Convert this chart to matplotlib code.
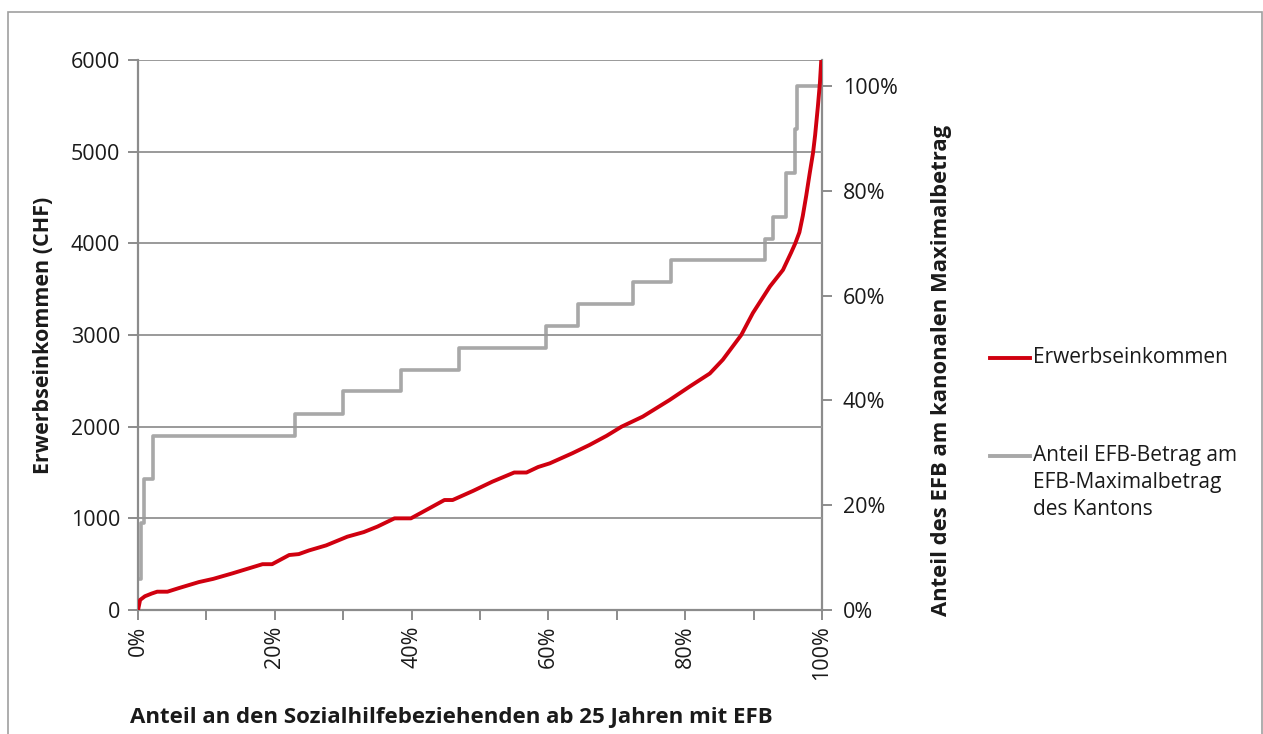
import matplotlib
matplotlib.use("Agg")
import matplotlib.pyplot as plt
from matplotlib.lines import Line2D
from matplotlib.patches import Rectangle
from matplotlib.ticker import FixedLocator, MultipleLocator

plt.rcParams["font.family"] = ["Open Sans", "DejaVu Sans"]

# Erwerbseinkommen (CHF) over share of recipients (%)
income_share = [0, 0.3, 1, 2, 2.8, 4.3, 6, 8.9, 11, 13.8, 16, 18.2, 19.6, 22.1, 23.5,
                25, 27.5, 30.6, 33, 35, 37.5, 39.9, 42.6, 44.8, 46, 49, 51.8, 55, 56.8,
                58.5, 60.2, 63.5, 66, 68.5, 70.7, 73.8, 77.7, 80.7, 83.6, 85.5, 87,
                88.2, 89.9, 92.4, 94.3, 95.5, 96.1, 96.7, 97.2, 97.7, 98.2, 98.7, 99.0,
                99.4, 99.7, 99.9, 100]
income_chf = [0, 110, 150, 180, 200, 200, 240, 305, 340, 400, 450, 500, 500, 600, 610,
              650, 705, 800, 850, 910, 1000, 1000, 1110, 1200, 1200, 1300, 1400, 1500, 1500,
              1560, 1600, 1710, 1800, 1900, 2000, 2110, 2290, 2440, 2580, 2730, 2880,
              3000, 3240, 3530, 3710, 3900, 4000, 4120, 4300, 4520, 4760, 4990, 5180,
              5490, 5750, 6000, 6300]

# Anteil EFB-Betrag am Maximalbetrag (step function)
efb_share = [0, 0.4, 0.8, 2.2, 22.9, 29.9, 38.5, 47.0, 59.7, 64.3, 72.3, 77.9,
             91.7, 92.9, 94.8, 96.0, 96.3, 100]
efb_ratio = [0.06, 0.167, 0.25, 0.333, 0.375, 0.417, 0.458, 0.5, 0.542, 0.583, 0.625, 0.667,
             0.708, 0.75, 0.833, 0.917, 1.0, 1.0]

x_ticks = [0, 20, 40, 60, 80, 100]
x_labels = ["0%", "20%", "40%", "60%", "80%", "100%"]
left_ticks = [0, 1000, 2000, 3000, 4000, 5000, 6000]
right_ticks = [0, 0.2, 0.4, 0.6, 0.8, 1.0]
right_labels = ["0%", "20%", "40%", "60%", "80%", "100%"]

RED = "#d0000f"
GRAY = "#a8a8a8"
AXIS = "#8c8c8c"
TEXT = "#1a1a1a"

fig = plt.figure(figsize=(12.63, 7.34), dpi=100)
ax = fig.add_axes([0.1093, 0.1689, 0.5415, 0.7494])
ax2 = ax.twinx()

ax.set_xlim(0, 100)
ax.set_ylim(0, 6000)
ax2.set_ylim(0, 1.0496)

ax.set_yticks(left_ticks)
ax.yaxis.grid(True, color="#9a9a9a", linewidth=1.4)
ax.set_axisbelow(True)

ax2.step(efb_share, efb_ratio, where="post", color=GRAY, linewidth=2.6, zorder=2)
ax.plot(income_share, income_chf, color=RED, linewidth=2.8, zorder=3)
ax.set_zorder(ax2.get_zorder() + 1)
ax.patch.set_visible(False)

ax.xaxis.set_major_locator(FixedLocator(x_ticks))
ax.xaxis.set_minor_locator(MultipleLocator(10))
ax.set_xticklabels(x_labels, rotation=90)
ax2.set_yticks(right_ticks)
ax2.set_yticklabels(right_labels)

for a in (ax, ax2):
    for s in a.spines.values():
        s.set_visible(False)
    a.tick_params(which="both", direction="out", color=AXIS, width=1.4, length=7,
                  labelsize=15.5, labelcolor=TEXT)
ax.spines["left"].set_visible(True)
ax.spines["bottom"].set_visible(True)
ax2.spines["right"].set_visible(True)
for s in (ax.spines["left"], ax.spines["bottom"], ax2.spines["right"]):
    s.set_color(AXIS)
    s.set_linewidth(1.6)
ax.tick_params(axis="x", which="both", pad=4)
ax.tick_params(axis="y", pad=6)
ax2.tick_params(axis="y", pad=8)

ax.set_ylabel("Erwerbseinkommen (CHF)", fontsize=15.5, fontweight="bold", color=TEXT, labelpad=12)
ax2.set_ylabel("Anteil des EFB am kanonalen Maximalbetrag", fontsize=15.8, fontweight="bold",
               color=TEXT)
ax2.yaxis.set_label_coords(1.16, 0.436)
fig.text(130 / 1263, 1 - 718 / 734, "Anteil an den Sozialhilfebeziehenden ab 25 Jahren mit EFB",
         fontsize=16, fontweight="bold", color=TEXT, ha="left", va="center")

# legend drawn at the right, handle aligned with the first text line
legend_items = [
    (RED, "Erwerbseinkommen", 358),
    (GRAY, "Anteil EFB-Betrag am\nEFB-Maximalbetrag\ndes Kantons", 456),
]
for color, label, ypix in legend_items:
    yy = 1 - ypix / 734
    fig.add_artist(Line2D([990 / 1263, 1030 / 1263], [yy, yy], color=color, linewidth=2.8))
    fig.text(1033 / 1263, yy + 0.0155, label, fontsize=15, color=TEXT, ha="left", va="top",
             linespacing=1.38)

fig.add_artist(Rectangle((8 / 1263, -0.05), 1254 / 1263, 1.05 - 12 / 734,
                         transform=fig.transFigure, fill=False, edgecolor="#a0a0a0",
                         linewidth=1.2))

fig.savefig("out.png", dpi=100)
